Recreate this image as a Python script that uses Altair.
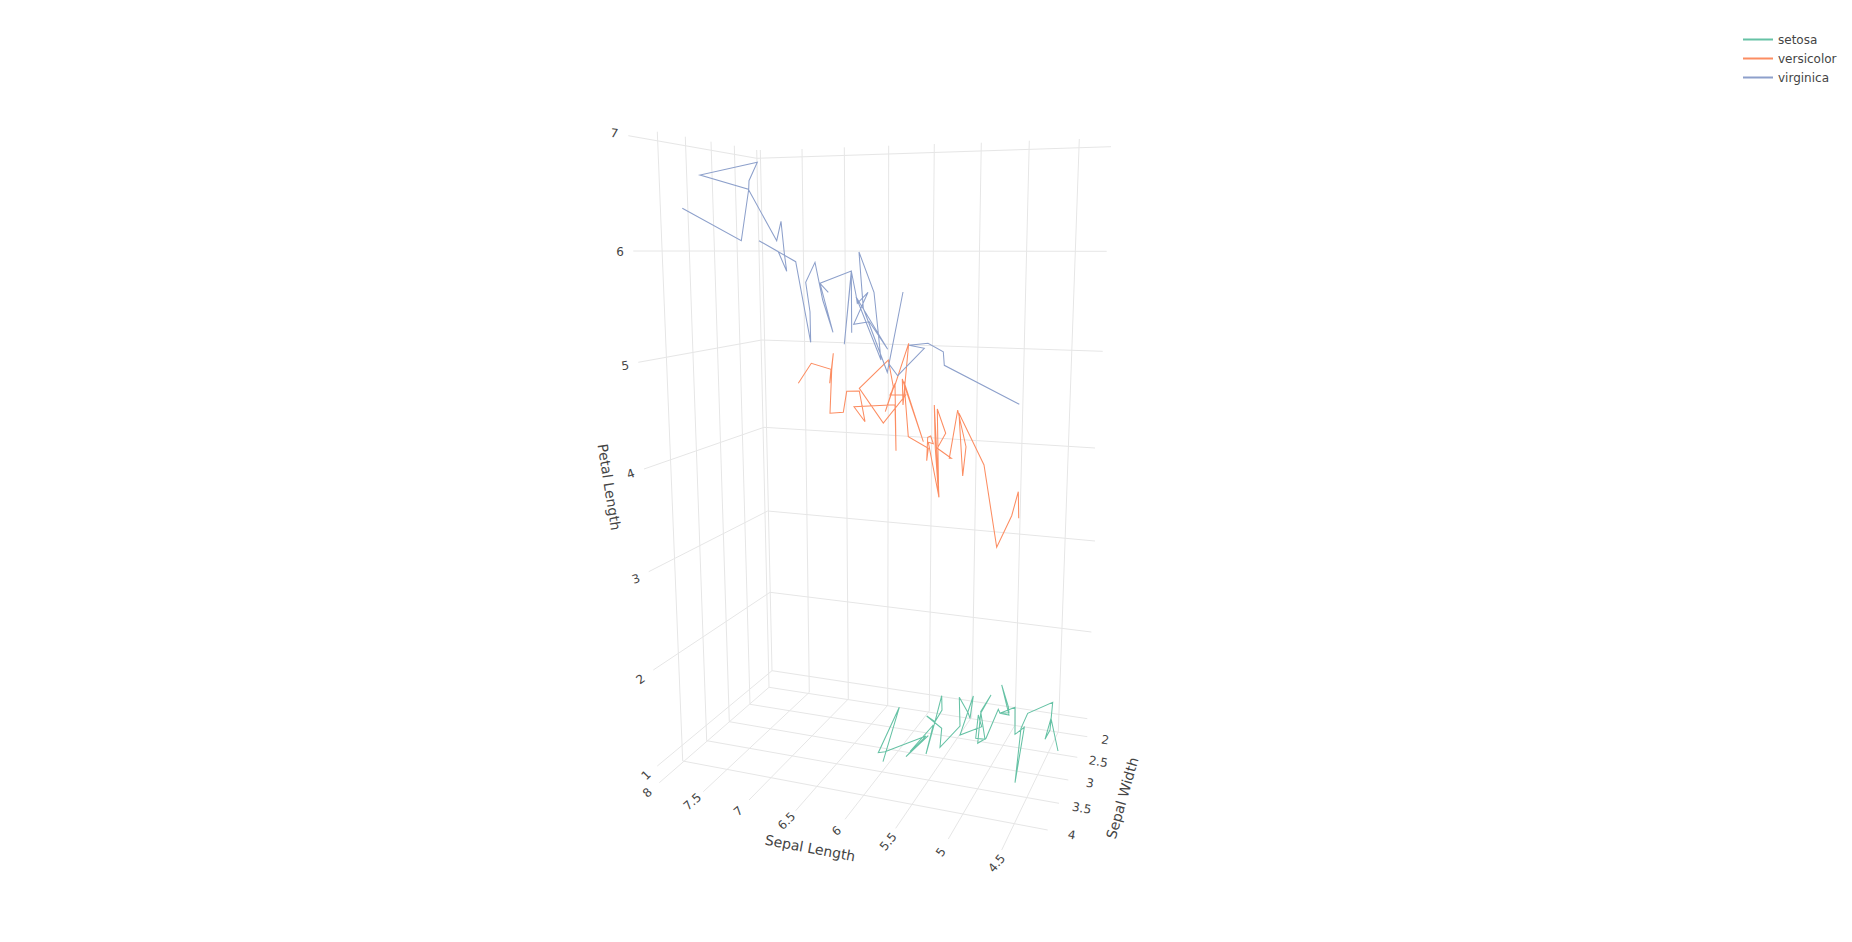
import altair as alt
import pandas as pd

# Projected (screen-space) readings of the 3D scene.
setosa_x = [883,899.3,878.3,885,926,906,928.3,910,933.3,926,935,942,941.7,935,926.7,941.7,940,960,959.3,968.3,970,973.3,960,981.7,978.3,975.7,985,980.7,991,980.7,977.7,986,998.3,1000,1009,1001.7,1008.3,1009,1000,1015,1015,1024.3,1015,1021,1027.7,1052.7,1050,1045,1051,1058]
setosa_y = [761.7,707.3,752.7,751.7,736,756.7,735.7,751.7,725,754,721.7,710,695.7,721.7,716,728.3,747.3,726,697.3,713.3,718.3,696,735,726.7,715,738.3,739.3,711.7,695,713.3,743.3,738.3,709.3,713.3,715,685,706.7,712.7,713.3,707.3,734.3,727.3,782.7,728.3,713.3,702.3,730,739.3,718.3,751]
versicolor_x = [798.3,811.3,831,829.7,833.3,831.7,830,843.3,846.7,859.3,865,854,895,896,895,885.3,893.3,888.3,859.3,883.3,905.7,890,895,908.7,903,902.3,923.3,904,908.3,928.3,926.7,927.7,930.7,933.3,928.3,939,934.3,935.3,938.7,937.3,945.7,937.3,951.3,949.3,957.7,966,962.7,959,984,996.7,1011.7,1018.3,1018.7]
versicolor_y = [383.3,363.3,369.3,383.3,353.3,370,413.3,412.3,391.3,391,421.7,406.7,404.7,450.7,383.3,411.7,386.7,360,388.3,423,395,395,385,343.3,405,379,441.7,381.7,436.7,448.3,460.7,437.3,436,443.7,442.3,497.3,405,448.3,496.7,409,433.3,448.3,458.3,458.3,410,446.7,476,413.3,465,547.3,515.7,491.7,518.3]
virginica_x = [682.3,741.3,748.7,749,757.3,700,748.3,776.7,781,784.3,786.7,778.3,759,795.7,810.7,810,805.7,815,822.7,833,820,828.3,820,851.3,844.3,851.3,851.7,851.3,856,857.3,868,853.7,869.3,887.7,856,881,878.3,874,859,863.3,887.3,903,889,897.7,924.3,909,928,943.3,944.3,1019.3]
virginica_y = [208.3,240.7,189.3,180.7,162.3,175,189.3,240.7,221.3,253.3,271.3,251.7,240.7,261.7,342.3,311.7,282.3,262.3,300,332.3,283.3,292.3,283.3,271,344.3,273.3,332.7,271,295,303.3,292.3,324.3,321.7,349.3,296.7,360,333.3,292.3,252,308.3,372.3,292,364,375.7,348.3,345.3,343.3,351.7,365.3,404.3]

species = ["setosa", "versicolor", "virginica"]
species_colors = ["#66c2a5", "#fc8d62", "#8da0cb"]

petal_grid = [
    [(628.3,135.7),(756.7,158.3),(1111,146.7)],
    [(633.3,251),(760.3,251),(1106.7,251.3)],
    [(638.3,362.3),(761.7,340),(1102.7,351.3)],
    [(644,469),(764,427.3),(1095,448)],
    [(648.7,571.7),(767.7,511),(1095,541)],
    [(653.3,670),(770,592.3),(1091.4,632)],
    [(657.3,766),(772,670.7),(1087.3,718.7)],
]
width_floor = [
    [(769,687.3),(1087.3,736.7)],
    [(750,704.3),(1077.3,757.3)],
    [(729.3,721.7),(1068.3,780)],
    [(706.7,740.7),(1059,803.3)],
    [(682.7,761),(1047.7,830)],
]
length_floor = [
    [(659.3,782.7),(769,687.3)],
    [(703.3,791.7),(809.3,692.3)],
    [(749,800),(848.3,699)],
    [(795.7,810.7),(887.7,705.3)],
    [(845,819.3),(929.3,711)],
    [(895.7,828.3),(971.7,717)],
    [(948.3,839),(1015,725)],
    [(1001.7,850),(1058.3,731.7)],
]
wall_verticals = [
    [(657.3,131.7),(682.7,761)],
    [(685.3,136.7),(706.7,740.7)],
    [(711,141.7),(729.3,721.7)],
    [(734.3,145.7),(750,704.3)],
    [(756.7,150),(769,687.3)],
    [(760.3,150),(772,670.7)],
    [(802,149),(809.3,692.3)],
    [(844.3,147.3),(848.3,699)],
    [(888.7,145.7),(887.7,705.3)],
    [(934.3,144),(929.3,711)],
    [(981.3,142.7),(971.7,717)],
    [(1029.3,140.7),(1015,725)],
    [(1079.3,139),(1058.3,731.7)],
]

tick_text = ["7","6","5","4","3","2","1",
             "8","7.5","7","6.5","6","5.5","5","4.5",
             "2","2.5","3","3.5","4"]
tick_x = [614.3,620,625.3,630.7,636,640.7,646,
          647.3,692.3,738.3,786.7,836.7,888.3,941,996.7,
          1105.3,1098.3,1090,1081.7,1071.7]
tick_y = [133.3,252.3,365.7,474,579,679.3,775.3,
          792.7,801.7,811.3,821,831,841.7,852,863.3,
          740,761.7,783.3,808.3,835]
tick_angle = [8,0,352,340,340,325,315,
              318,318,320,315,320,310,305,310,
              10,10,10,10,10]

title_text = ["Sepal Length","Sepal Width","Petal Length"]
title_x = [810,1123.3,608.3]
title_y = [849,798.3,487.3]
title_angle = [10.5,286,81]

VX0, VY0, W, H = 8, 8, 1830, 920
xs = alt.Scale(domain=[VX0, VX0 + W], range=[0, W], nice=False, zero=False)
ys = alt.Scale(domain=[VY0, VY0 + H], range=[0, H], nice=False, zero=False)

grid_rows = []
for k, line in enumerate(petal_grid + width_floor + length_floor + wall_verticals):
    for i, (px, py) in enumerate(line):
        grid_rows.append({"line": k, "i": i, "x": px, "y": py})
grid_df = pd.DataFrame(grid_rows)

trace_rows = []
for name, lx, ly in [("setosa", setosa_x, setosa_y),
                     ("versicolor", versicolor_x, versicolor_y),
                     ("virginica", virginica_x, virginica_y)]:
    for i, (px, py) in enumerate(zip(lx, ly)):
        trace_rows.append({"species": name, "i": i, "x": px, "y": py})
trace_df = pd.DataFrame(trace_rows)

tick_df = pd.DataFrame({"x": tick_x, "y": tick_y, "t": tick_text, "a": tick_angle})
title_df = pd.DataFrame({"x": title_x, "y": title_y, "t": title_text, "a": title_angle})

X = alt.X("x:Q", scale=xs, axis=None)
Y = alt.Y("y:Q", scale=ys, axis=None)

grid = alt.Chart(grid_df).mark_line(color="#e6e6e6", strokeWidth=1).encode(
    x=X, y=Y, detail="line:N", order=alt.Order("i:Q"))

traces = alt.Chart(trace_df).mark_line(strokeWidth=1.05).encode(
    x=X, y=Y, order=alt.Order("i:Q"),
    color=alt.Color("species:N",
                    scale=alt.Scale(domain=species, range=species_colors),
                    legend=alt.Legend(orient="none", legendX=1734, legendY=22, title=None,
                                      symbolType="stroke", symbolSize=900, symbolStrokeWidth=2,
                                      labelFont="DejaVu Sans", labelFontSize=12, labelColor="#444444",
                                      clipHeight=19, rowPadding=0, labelOffset=4, padding=0)))

ticks = alt.Chart(tick_df).mark_text(font="DejaVu Sans", fontSize=12, color="#444444",
                                     align="center", baseline="middle").encode(
    x=X, y=Y, text="t:N", angle=alt.Angle("a:Q", scale=None))

titles = alt.Chart(title_df).mark_text(font="DejaVu Sans", fontSize=14, color="#444444",
                                       align="center", baseline="middle").encode(
    x=X, y=Y, text="t:N", angle=alt.Angle("a:Q", scale=None))

chart = alt.layer(grid, traces, ticks, titles).properties(
    width=W, height=H, padding=0
).configure_view(stroke=None).resolve_scale(color="independent")

chart.save("out.html", embed_options={"renderer": "svg", "actions": False})
